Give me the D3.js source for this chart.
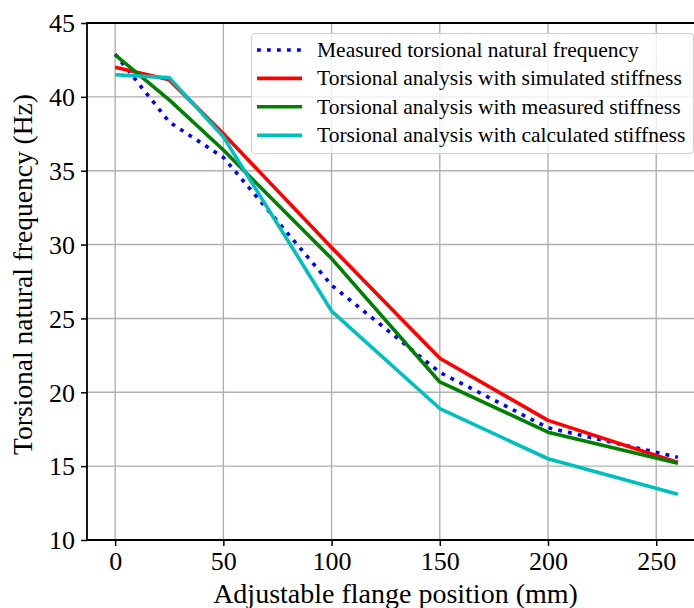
<!DOCTYPE html>
<html>
<head>
<meta charset="utf-8">
<script src="https://cdn.jsdelivr.net/npm/d3@7"></script>
<style>
  body { margin: 0; background: #fff; }
  text { font-family: "Liberation Serif", "DejaVu Serif", serif; fill: #000; }
</style>
</head>
<body>
<svg id="chart" width="694" height="608"></svg>
<script>
// data
const flangePos = [0, 25, 50, 100, 150, 200, 260];
const measuredFreq = [42.9, 38.3, 35.9, 27.25, 21.35, 17.6, 15.6];
const simulatedStiff = [42.0, 41.15, 37.5, 29.8, 22.3, 18.1, 15.25];
const measuredStiff = [42.85, 39.8, 36.4, 29.05, 20.7, 17.3, 15.2];
const calculatedStiff = [41.5, 41.3, 37.3, 25.5, 18.9, 15.5, 13.1];

const seriesNames = [
  "Measured torsional natural frequency",
  "Torsional analysis with simulated stiffness",
  "Torsional analysis with measured stiffness",
  "Torsional analysis with calculated stiffness"
];
const xTicks = [0, 50, 100, 150, 200, 250];
const yTicks = [10, 15, 20, 25, 30, 35, 40, 45];

const series = [
  {name: seriesNames[0], values: measuredFreq, color: "#0000ff", dash: "3.8,6.2"},
  {name: seriesNames[1], values: simulatedStiff, color: "#ff0000", dash: null},
  {name: seriesNames[2], values: measuredStiff, color: "#008000", dash: null},
  {name: seriesNames[3], values: calculatedStiff, color: "#00bfbf", dash: null}
];

const svg = d3.select("#chart");
const M = {left: 87, right: 706, top: 23, bottom: 540};
const LW = 3.6;

const sx = d3.scaleLinear().domain([-13, 273]).range([M.left, M.right]);
const sy = d3.scaleLinear().domain([10, 45]).range([M.bottom, M.top]);

// keep text width close to the reference
function fit(sel, width) {
  const w = sel.node().getComputedTextLength();
  sel.attr("font-size", parseFloat(sel.attr("font-size")) * width / w);
}

//grid
const grid = svg.append("g").attr("class", "grid")
  .attr("stroke", "#b0b0b0").attr("stroke-width", 1.4);
grid.selectAll(".gx").data(xTicks).join("line")
  .attr("class", "gx")
  .attr("x1", d => sx(d)).attr("x2", d => sx(d))
  .attr("y1", M.top).attr("y2", M.bottom);
grid.selectAll(".gy").data(yTicks).join("line")
  .attr("class", "gy")
  .attr("x1", M.left).attr("x2", M.right)
  .attr("y1", d => sy(d)).attr("y2", d => sy(d));

//lines
const line = d3.line()
  .x((d, i) => sx(flangePos[i]))
  .y(d => sy(d));

svg.append("defs").append("clipPath").attr("id", "clip")
  .append("rect").attr("x", M.left).attr("y", M.top)
  .attr("width", M.right - M.left).attr("height", M.bottom - M.top);

svg.append("g").attr("clip-path", "url(#clip)")
  .selectAll("path").data(series).join("path")
  .attr("fill", "none")
  .attr("stroke", d => d.color)
  .attr("stroke-width", LW)
  .attr("stroke-dasharray", d => d.dash)
  .attr("stroke-linejoin", "round")
  .attr("d", d => line(d.values));

//axes
const ax = d3.axisBottom(sx).tickValues(xTicks).tickSizeOuter(0).tickSize(6).tickPadding(6);
const gx = svg.append("g")
  .attr("transform", `translate(0, ${M.bottom})`)
  .call(ax);
const ay = d3.axisLeft(sy).tickValues(yTicks).tickSizeOuter(0).tickSize(6).tickPadding(6);
const gy = svg.append("g")
  .attr("transform", `translate(${M.left}, 0)`)
  .call(ay);

[gx, gy].forEach(g => {
  g.select(".domain").remove();
  g.selectAll(".tick line").attr("stroke", "#000").attr("stroke-width", 1.5);
  g.selectAll(".tick text")
    .attr("font-family", "Liberation Serif, serif")
    .attr("font-size", 26).attr("fill", "#000");
});
gx.selectAll(".tick text").attr("dy", "0.68em");
gy.selectAll(".tick text").attr("dy", "0.34em");

//spines
svg.append("path")
  .attr("fill", "none").attr("stroke", "#000").attr("stroke-width", 1.8)
  .attr("d", `M${M.right},${M.top}H${M.left}V${M.bottom}H${M.right}`);

//axis labels
svg.append("text")
  .attr("x", (M.left + M.right) / 2 - 1).attr("y", 603)
  .attr("text-anchor", "middle").attr("font-size", 28)
  .text("Adjustable flange position (mm)");

svg.append("text")
  .attr("transform", `translate(32, ${(M.top + M.bottom) / 2 - 7}) rotate(-90)`)
  .attr("text-anchor", "middle").attr("font-size", 27.5)
  .text("Torsional natural frequency (Hz)");

//legend
const lg = svg.append("g").attr("class", "legend");
lg.append("rect")
  .attr("x", 251.5).attr("y", 33.5).attr("width", 442).attr("height", 120)
  .attr("rx", 4)
  .attr("fill", "#fff").attr("fill-opacity", 0.8)
  .attr("stroke", "#d0d0d0").attr("stroke-width", 1.2);

const rows = lg.selectAll(".row").data(series).join("g")
  .attr("class", "row")
  .attr("transform", (d, i) => `translate(0, ${50 + i * 28.4})`);
rows.append("line")
  .attr("x1", 257).attr("x2", 302)
  .attr("stroke", d => d.color)
  .attr("stroke-width", LW)
  .attr("stroke-dasharray", d => d.dash);
const lt = rows.append("text")
  .attr("x", 317).attr("y", 7)
  .attr("font-size", 21)
  .text(d => d.name);
fit(d3.select(lt.nodes()[0]), 322);
lt.attr("font-size", d3.select(lt.nodes()[0]).attr("font-size"));
</script>
</body>
</html>
